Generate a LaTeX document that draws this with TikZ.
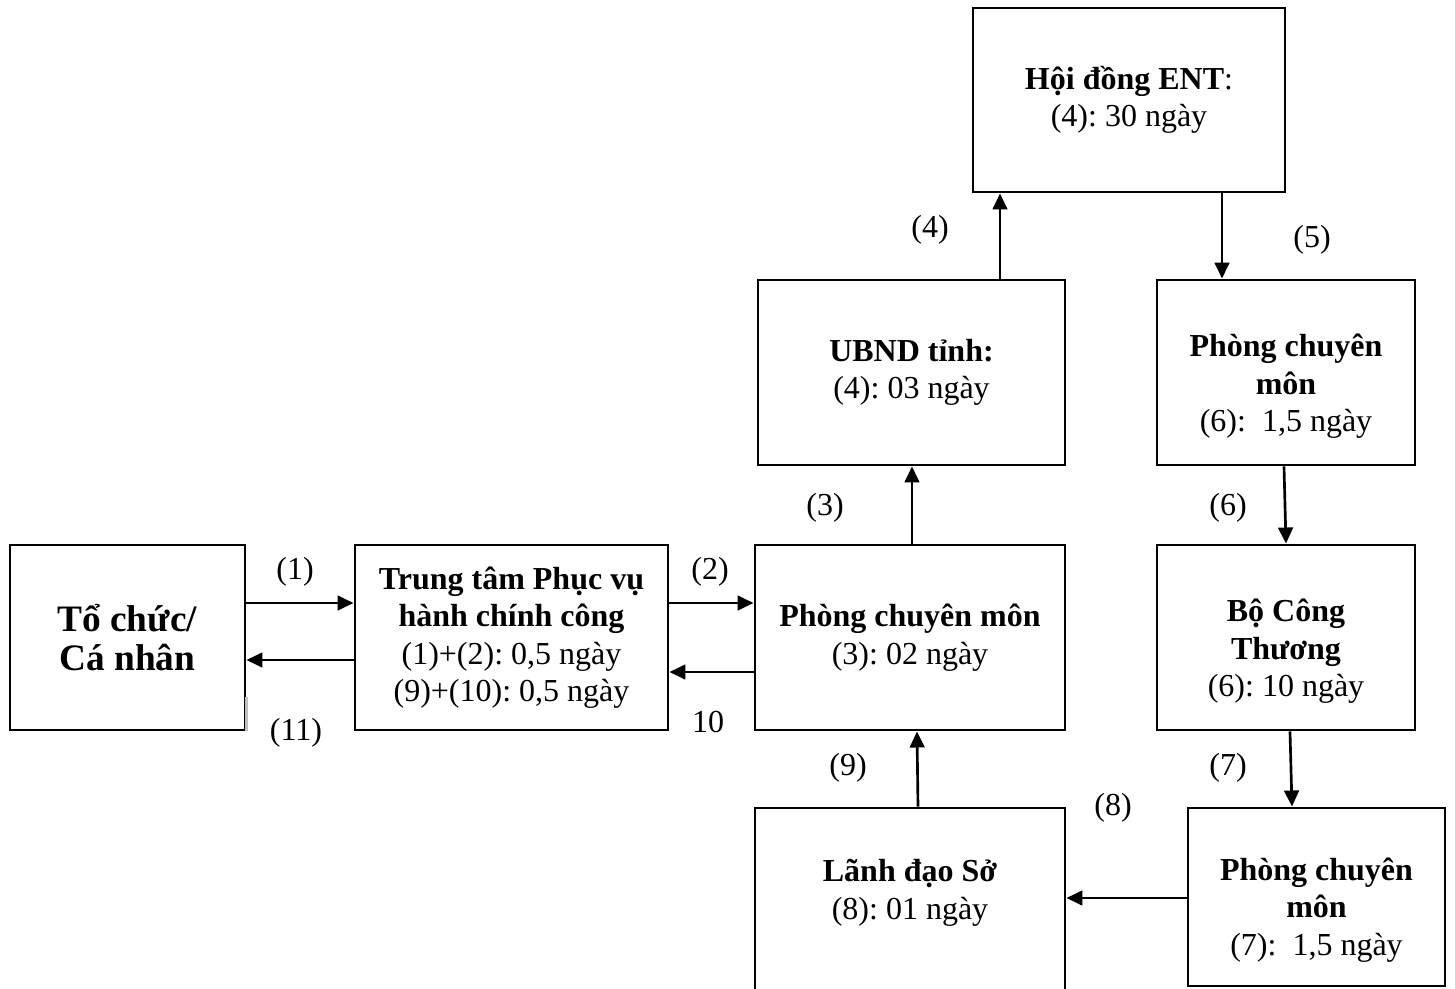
\documentclass[tikz,border=0pt]{standalone}
\usepackage{fontspec}
\setmainfont{Liberation Serif}
\usetikzlibrary{arrows.meta}
\frenchspacing
\newcommand\shiftdown[2]{\raisebox{-#1}[\height][\depth]{\begin{tabular}{@{}c@{}}#2\end{tabular}}}
\tikzset{
  box/.style={draw, line width=1.1pt, rectangle, align=center, inner sep=0pt,
    font=\fontsize{12}{14}\selectfont},
  sz/.style 2 args={minimum width=#1*0.375pt, minimum height=#2*0.375pt},
  arr/.style={line width=1pt, -{Triangle[length=6pt,width=5.5pt]}},
  lbl/.style={font=\fontsize{12}{14}\selectfont}
}

\begin{document}
\begin{tikzpicture}[x=0.375pt,y=-0.375pt]

\useasboundingbox (0,0) rectangle (1455,989);

% boxes
\node[box, sz={235}{185}, font=\fontsize{14}{14.6}\selectfont] (org) at (127.5,637.5)
  {\textbf{Tổ chức/}\\\textbf{Cá nhân}};
\draw[black!25, line width=1.2pt] (org.south east) -- (org.east |- 0,697);

\node[box, sz={313}{185}] (ttpv) at (511.5,637.5)
  {\textbf{Trung tâm Phục vụ}\\\textbf{hành chính công}\\(1)+(2): 0,5 ngày\\(9)+(10): 0,5 ngày};

\node[box, sz={310}{185}] (pcm) at (910,637.5)
  {\textbf{Phòng chuyên môn}\\(3): 02 ngày};

\node[box, sz={307}{185}] (ubnd) at (911.5,372.5)
  {\textbf{UBND tỉnh:}\\(4): 03 ngày};

\node[box, sz={312}{184}] (hd) at (1129,100)
  {\textbf{Hội đồng ENT}:\\(4): 30 ngày};

\node[box, sz={258}{185}] (pcmA) at (1286,372.5)
  {\shiftdown{5.3pt}{\textbf{Phòng chuyên}\\\textbf{môn}\\(6):\ \ 1,5 ngày}};

\node[box, sz={258}{185}] (bct) at (1286,637.5)
  {\shiftdown{5.3pt}{\textbf{Bộ Công}\\\textbf{Thương}\\(6): 10 ngày}};

\node[box, sz={257}{178}] (pcmB) at (1316.5,897)
  {\shiftdown{5pt}{\textbf{Phòng chuyên}\\\textbf{môn}\\(7):\ \ 1,5 ngày}};

\node[box, sz={310}{186}] (ldso) at (910,901)
  {\shiftdown{-3pt}{\textbf{Lãnh đạo Sở}\\(8): 01 ngày}};

% arrows
\draw[arr] (org.east |- 0,603) -- (ttpv.west |- 0,603);
\draw[arr] (ttpv.west |- 0,660) -- (org.east |- 0,660);
\draw[arr] (ttpv.east |- 0,603) -- (pcm.west |- 0,603);
\draw[arr] (pcm.west |- 0,672) -- (ttpv.east |- 0,672);
\draw[arr] (pcm.north -| 912,0) -- (ubnd.south -| 912,0);
\draw[arr] (ubnd.north -| 1000,0) -- (hd.south -| 1000,0);
\draw[arr] (hd.south -| 1222,0) -- (pcmA.north -| 1222,0);
\draw[arr] (pcmA.south -| 1284,0) -- (bct.north -| 1286,0);
\draw[arr] (bct.south -| 1290,0) -- (pcmB.north -| 1292,0);
\draw[arr] (pcmB.west |- 0,898) -- (ldso.east |- 0,898);
\draw[arr] (ldso.north -| 918,0) -- (pcm.south -| 917,0);

% step labels
\node[lbl] (l1) at (295,572) {(1)};
\node[lbl] (l11) at (296,733) {(11)};
\node[lbl] (l2) at (710,572) {(2)};
\node[lbl] (l10) at (708,722) {10};
\node[lbl] (l3) at (825,508) {(3)};
\node[lbl] (l4) at (930,230) {(4)};
\node[lbl] (l5) at (1312,240) {(5)};
\node[lbl] (l6) at (1228,508) {(6)};
\node[lbl] (l7) at (1228,768) {(7)};
\node[lbl] (l8) at (1113,808) {(8)};
\node[lbl] (l9) at (848,768) {(9)};

\end{tikzpicture}
\end{document}
